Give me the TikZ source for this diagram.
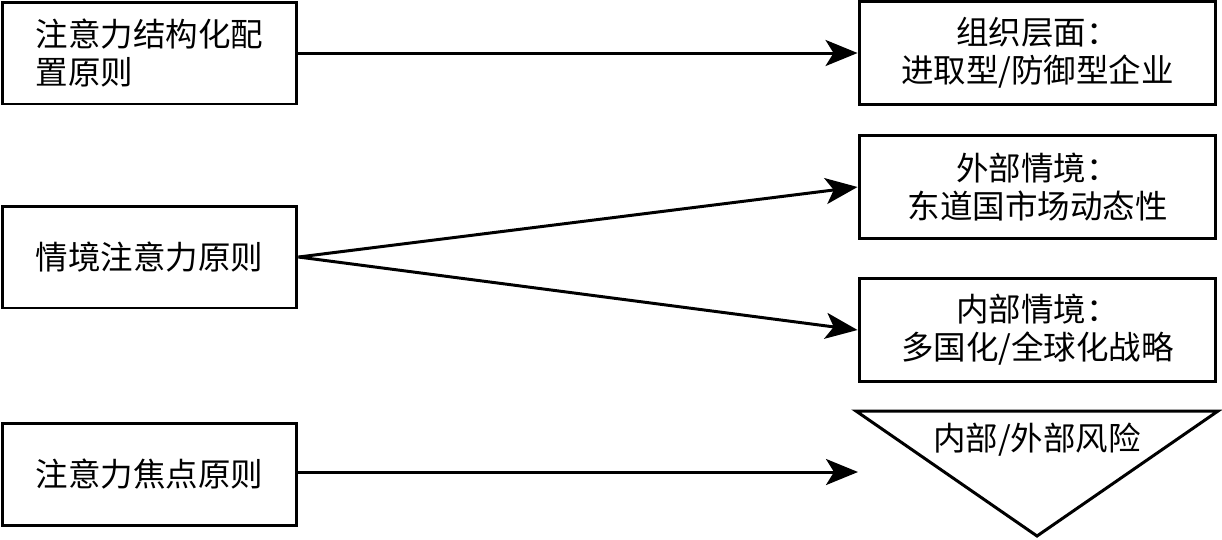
\documentclass[tikz,border=0pt]{standalone}
\usepackage{fontspec}
\newfontfamily\cjk{Noto Sans CJK SC}
\usetikzlibrary{arrows.meta}
\usetikzlibrary{positioning}

\begin{document}
\begin{tikzpicture}[x=0.02cm,y=-0.02cm,
  every node/.style={font=\cjk\fontsize{18.5pt}{21.5pt}\selectfont},
  box/.style={draw,line width=1.7pt,rectangle,inner sep=0pt},
  lbox/.style={box,minimum width=5.9cm,minimum height=2.04cm},
  rbox/.style={box,minimum width=7.14cm,minimum height=2.06cm,align=center},
  arr/.style={line width=1.7pt,-{Stealth[length=0.64cm,width=0.52cm,inset=0.16cm]}}]

  \useasboundingbox (0,0) rectangle (1222,539);

  % left column
  \node[lbox,align=left] (cfg) at (149.5,53) {注意力结构化配\\置原则};
  \node[lbox] (ctx) at (149.5,257) {情境注意力原则};
  \node[lbox] (foc) at (149.5,474) {注意力焦点原则};

  % right column
  \node[rbox] (org) at (1037.5,53) {组织层面：\\进取型/防御型企业};
  \node[rbox] (ext) at (1037.5,187) {外部情境：\\东道国市场动态性};
  \node[rbox] (int) at (1037.5,330) {内部情境：\\多国化/全球化战略};

  % risk triangle
  \coordinate (t1) at (856,411);
  \coordinate (t2) at (1218,411);
  \coordinate (t3) at (1037,536);
  \draw[line width=1.7pt,line join=miter] (t1) -- (t2) -- (t3) -- cycle;
  \node (risk) at (1037,440) {内部/外部风险};
  \coordinate (riskin) at (858,472);

  % arrows
  \draw[arr] (cfg.east) -- (org.west);
  \draw[arr] (ctx.east) -- (ext.west);
  \draw[arr] (ctx.east) -- (int.west);
  \draw[arr] (foc.east |- riskin) -- (riskin);

\end{tikzpicture}
\end{document}
